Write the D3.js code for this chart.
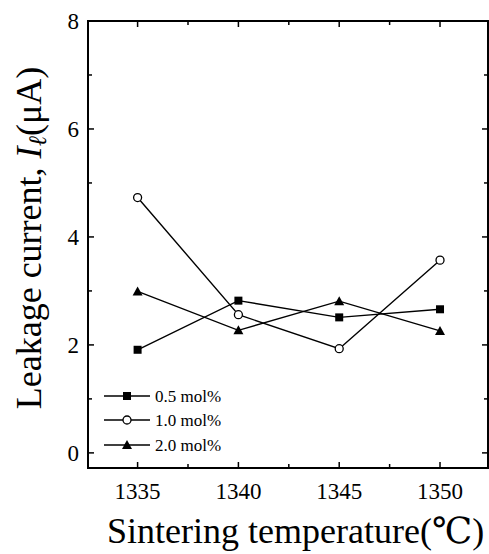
<!DOCTYPE html>
<html lang="en">
<head>
  <meta charset="UTF-8" />
  <title>Leakage current vs sintering temperature</title>
  <style>
    body {
      margin: 0;
      background: white;
    }
    svg {
      display: block;
    }
    svg text {
      font-family: "Times New Roman", "Liberation Serif", "DejaVu Serif", serif;
      fill: #000;
    }
    .tick-label {
      font-size: 23px;
    }
    .axis-title {
      font-size: 36px;
    }
    .legend-label {
      font-size: 17px;
    }
  </style>
</head>
<body>
  <svg width="489" height="554"></svg>

  <script src="https://d3js.org/d3.v7.min.js"></script>
  <script>
    const temperatures = [1335, 1340, 1345, 1350];
    const series05 = [1.91, 2.82, 2.51, 2.66];
    const series10 = [4.73, 2.56, 1.93, 3.57];
    const series20 = [2.99, 2.27, 2.81, 2.26];
    const seriesNames = ["0.5 mol%", "1.0 mol%", "2.0 mol%"];
    const seriesMarkers = ["square", "circle", "triangle"];
    const xTicks = [1335, 1340, 1345, 1350];
    const xMinorTicks = [1337.5, 1342.5, 1347.5];
    const yTicks = [0, 2, 4, 6, 8];
    const yMinorTicks = [1, 3, 5, 7];

    const allSeries = [series05, series10, series20].map((vals, i) => ({
      name: seriesNames[i],
      marker: seriesMarkers[i],
      points: vals.map((v, j) => ({ t: temperatures[j], v: v }))
    }));

    const svg = d3.select("svg");
    const plotLeft = 88, plotRight = 488, plotTop = 21, plotBottom = 468;

    const x = d3.scaleLinear().domain([1332.54, 1352.38]).range([plotLeft, plotRight]);
    const y = d3.scaleLinear().domain([-0.28, 8]).range([plotBottom, plotTop]);

    // ticks, all pointing inward
    const tickG = svg.append("g").attr("stroke", "#000").attr("stroke-width", 1.5);
    const majorLen = 6, minorLen = 4;
    xTicks.forEach(t => {
      tickG.append("line").attr("x1", x(t)).attr("x2", x(t)).attr("y1", plotBottom).attr("y2", plotBottom - majorLen);
      tickG.append("line").attr("x1", x(t)).attr("x2", x(t)).attr("y1", plotTop).attr("y2", plotTop + majorLen);
    });
    xMinorTicks.forEach(t => {
      tickG.append("line").attr("x1", x(t)).attr("x2", x(t)).attr("y1", plotBottom).attr("y2", plotBottom - minorLen);
      tickG.append("line").attr("x1", x(t)).attr("x2", x(t)).attr("y1", plotTop).attr("y2", plotTop + minorLen);
    });
    yTicks.forEach(t => {
      tickG.append("line").attr("x1", plotLeft).attr("x2", plotLeft + majorLen).attr("y1", y(t)).attr("y2", y(t));
      tickG.append("line").attr("x1", plotRight).attr("x2", plotRight - majorLen).attr("y1", y(t)).attr("y2", y(t));
    });
    yMinorTicks.forEach(t => {
      tickG.append("line").attr("x1", plotLeft).attr("x2", plotLeft + minorLen).attr("y1", y(t)).attr("y2", y(t));
      tickG.append("line").attr("x1", plotRight).attr("x2", plotRight - minorLen).attr("y1", y(t)).attr("y2", y(t));
    });

    // frame
    svg.append("rect")
      .attr("x", plotLeft).attr("y", plotTop)
      .attr("width", plotRight - plotLeft).attr("height", plotBottom - plotTop)
      .attr("fill", "none").attr("stroke", "#000").attr("stroke-width", 2);

    // tick labels
    svg.append("g").selectAll("text")
      .data(xTicks)
      .join("text")
        .attr("class", "tick-label")
        .attr("x", d => x(d))
        .attr("y", plotBottom + 31)
        .attr("text-anchor", "middle")
        .text(d => d);

    svg.append("g").selectAll("text")
      .data(yTicks)
      .join("text")
        .attr("class", "tick-label")
        .attr("x", plotLeft - 9)
        .attr("y", d => y(d) + 8)
        .attr("text-anchor", "end")
        .text(d => d);

    // axis titles
    svg.append("text")
      .attr("class", "axis-title")
      .attr("x", 107)
      .attr("y", 543)
      .text("Sintering temperature(\u2103)");

    const yTitle = svg.append("text")
      .attr("class", "axis-title")
      .attr("transform", "translate(41,238) rotate(-90)")
      .attr("text-anchor", "middle");
    yTitle.append("tspan").text("Leakage current, ");
    yTitle.append("tspan").attr("font-style", "italic").text("I");
    yTitle.append("tspan").attr("font-style", "italic").attr("font-size", "25px").attr("dy", 5).text("\u2113");
    yTitle.append("tspan").attr("dy", -5).text("(\u03bcA)");

    // markers
    function drawMarker(g, type, cx, cy) {
      if (type === "square") {
        g.append("rect")
          .attr("x", cx - 4).attr("y", cy - 4)
          .attr("width", 8).attr("height", 8)
          .attr("fill", "#000");
      } else if (type === "circle") {
        g.append("circle")
          .attr("cx", cx).attr("cy", cy).attr("r", 4)
          .attr("fill", "#fff").attr("stroke", "#000").attr("stroke-width", 1.3);
      } else {
        g.append("path")
          .attr("d", `M${cx},${cy - 5} L${cx + 5},${cy + 4} L${cx - 5},${cy + 4} Z`)
          .attr("fill", "#000");
      }
    }

    const line = d3.line().x(d => x(d.t)).y(d => y(d.v));

    allSeries.forEach(s => {
      svg.append("path")
        .datum(s.points)
        .attr("d", line)
        .attr("fill", "none")
        .attr("stroke", "#000")
        .attr("stroke-width", 1.4);
    });
    allSeries.forEach(s => {
      const g = svg.append("g");
      s.points.forEach(p => drawMarker(g, s.marker, x(p.t), y(p.v)));
    });

    // legend
    const legendY = [396, 420, 445];
    allSeries.forEach((s, i) => {
      const g = svg.append("g");
      g.append("line")
        .attr("x1", 104).attr("x2", 150)
        .attr("y1", legendY[i]).attr("y2", legendY[i])
        .attr("stroke", "#000").attr("stroke-width", 1.4);
      drawMarker(g, s.marker, 127, legendY[i]);
      g.append("text")
        .attr("class", "legend-label")
        .attr("x", 155)
        .attr("y", legendY[i] + 6)
        .text(s.name);
    });
  </script>
</body>
</html>
